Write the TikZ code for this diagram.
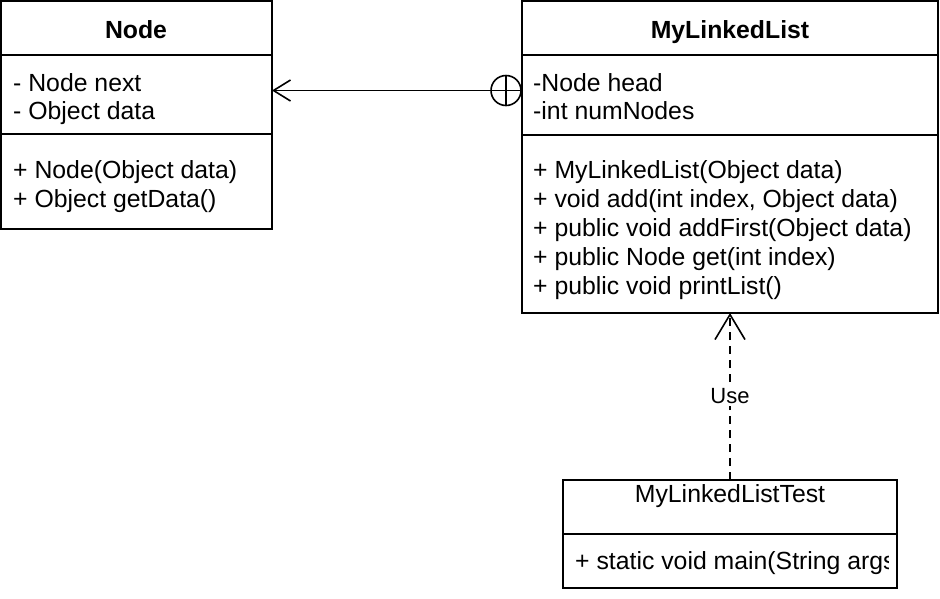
\documentclass[tikz,border=0pt]{standalone}
\usepackage{fontspec}
\setmainfont{Liberation Sans}
\usetikzlibrary{arrows.meta}
\begin{document}
\begin{tikzpicture}[x=1pt,y=-1pt,
  umlbox/.style={draw, line width=2pt, inner sep=0pt, outer sep=0pt, anchor=north west},
  txt/.style={anchor=base west, inner sep=0pt, font=\fontsize{24.8}{29}\selectfont},
  ttl/.style={anchor=base, inner sep=0pt, font=\fontsize{24.8}{29}\selectfont\bfseries},
  ttlplain/.style={anchor=base, inner sep=0pt, font=\fontsize{24.8}{29}\selectfont},
  sepline/.style={line width=2pt},
  assoc/.style={line width=1.6pt, -{Straight Barb[length=17pt,width=21pt,line width=1.6pt]}},
  dep/.style={line width=1.6pt, dash pattern=on 8pt off 6pt, -{Straight Barb[length=25pt,width=30pt,line width=1.6pt]}},
  lbl/.style={fill=white, inner sep=2pt, font=\fontsize{22}{26}\selectfont},
  nest/.style={circle, draw, line width=1.6pt, minimum size=30pt, inner sep=0pt, outer sep=0pt}
]
\useasboundingbox (0,0) rectangle (940,598);

% Node class
\node[umlbox, minimum width=271pt, minimum height=228pt] (node) at (1,1) {};
\draw[sepline] (node.west |- 0,55) -- (node.east |- 0,55);
\draw[sepline] (node.west |- 0,134) -- (node.east |- 0,134);
\node[ttl] (nodeT) at (136,38) {Node};
\node[txt] (nodeA1) at (13,91) {- Node next};
\node[txt] (nodeA2) at (13,119.5) {- Object data};
\node[txt] (nodeM1) at (13,178.5) {+ Node(Object data)};
\node[txt] (nodeM2) at (13,207.5) {+ Object getData()};

% MyLinkedList class
\node[umlbox, minimum width=416pt, minimum height=312pt] (mll) at (522,1) {};
\draw[sepline] (mll.west |- 0,55) -- (mll.east |- 0,55);
\draw[sepline] (mll.west |- 0,135) -- (mll.east |- 0,135);
\node[ttl] (mllT) at (730,38) {MyLinkedList};
\node[txt] (mllA1) at (533,91) {-Node head};
\node[txt] (mllA2) at (533,119.5) {-int numNodes};
\node[txt] (mllM1) at (533,178.5) {+ MyLinkedList(Object data)};
\node[txt] (mllM2) at (533,207.5) {+ void add(int index, Object data)};
\node[txt] (mllM3) at (533,236.5) {+ public void addFirst(Object data)};
\node[txt] (mllM4) at (533,265.5) {+ public Node get(int index)};
\node[txt] (mllM5) at (533,294.5) {+ public void printList()};

% MyLinkedListTest class
\node[umlbox, minimum width=334pt, minimum height=108pt] (test) at (563,480) {};
\draw[sepline] (test.west |- 0,534) -- (test.east |- 0,534);
\node[ttlplain] (testT) at (730,502) {MyLinkedListTest};
\begin{scope}
  \clip (565,536) rectangle (888.5,586);
  \node[txt] (testM1) at (575,569.5) {+ static void main(String args)};
\end{scope}

% nesting association
\node[nest] (circ) at (506,90.5) {};
\draw[line width=1.6pt] (circ.north) -- (circ.south);
\draw[line width=1.6pt] (circ.west) -- (circ.east);
\draw[assoc] (circ.west) -- (node.east |- circ.west);

% dependency
\draw[dep] (test.north) -- (test.north |- mll.south) node[lbl, pos=0.5] (use) {Use};
\end{tikzpicture}
\end{document}
